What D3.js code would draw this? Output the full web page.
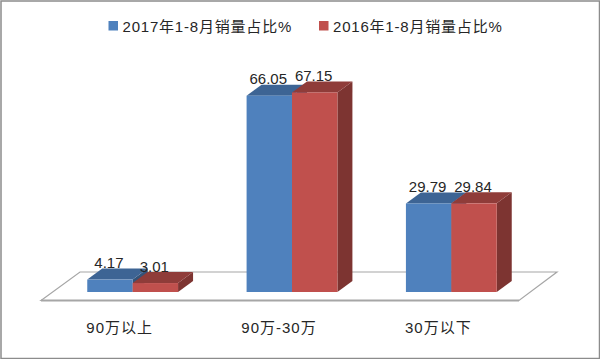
<!DOCTYPE html>
<html>
<head>
<meta charset="utf-8">
<style>
  html, body { margin: 0; padding: 0; background: #fff; }
  text { font-family: "Liberation Sans", "Noto Sans CJK SC", sans-serif; fill: #262626; }
</style>
<script src="https://cdn.jsdelivr.net/npm/d3@7"></script>
</head>
<body>
<div id="chartContainer"></div>
<script>
var categories = ["90万以上", "90万-30万", "30万以下"];
var seriesNames = ["2017年1-8月销量占比%", "2016年1-8月销量占比%"];
var values2017 = [4.17, 66.05, 29.79];
var values2016 = [3.01, 67.15, 29.84];

var seriesColors = [
    { front: "#4f81bd", top: "#3d6494", side: "#335379" },
    { front: "#c0504d", top: "#8f3c39", side: "#7d3431" }
];

function init() {
    var ww = 600;
    var h = 359;
    var baseY = 292;
    var depthX = 15;
    var depthY = 11;

    var svg = d3.select("#chartContainer")
        .append("svg")
        .attr("width", ww)
        .attr("height", h)
        .style("display", "block");

    // outer frame
    svg.append("rect")
        .attr("x", 1).attr("y", 1)
        .attr("width", ww - 1.5).attr("height", h - 1.5)
        .attr("fill", "#fff")
        .attr("stroke", "#8c8c8c")
        .attr("stroke-width", 1.5);

    var x0 = d3.scaleBand()
        .domain(categories)
        .range([53, 531])
        .paddingInner(0.43)
        .paddingOuter(0.215);

    var x1 = d3.scaleBand()
        .domain([0, 1])
        .range([0, x0.bandwidth()]);

    var y = d3.scaleLinear()
        .domain([0, 70])
        .range([baseY, baseY - 208]);

    // floor of the 3d box
    svg.append("path")
        .attr("d", "M41,300.5L80,272H557L519,300.5Z")
        .attr("fill", "#fff")
        .attr("stroke", "#a6a6a6")
        .attr("stroke-width", 1.2);
    svg.append("line")
        .attr("x1", 41).attr("y1", 300.5)
        .attr("x2", 519).attr("y2", 300.5)
        .attr("stroke", "#a6a6a6")
        .attr("stroke-width", 2);

    var rows = [];
    [values2017, values2016].forEach(function(vals, s) {
        vals.forEach(function(v, i) {
            rows.push({ s: s, cat: categories[i], value: v });
        });
    });

    var bars = svg.selectAll("g.bar")
        .data(rows)
        .enter()
        .append("g")
        .attr("class", "bar");

    function left(d) { return x0(d.cat) + x1(d.s); }
    function right(d) { return left(d) + x1.bandwidth(); }

    bars.append("path")
        .attr("fill", function(d) { return seriesColors[d.s].side; })
        .attr("d", function(d) {
            var l = right(d), t = y(d.value);
            return "M" + l + "," + baseY + "L" + l + "," + t +
                "L" + (l + depthX) + "," + (t - depthY) +
                "L" + (l + depthX) + "," + (baseY - depthY) + "Z";
        });

    bars.append("path")
        .attr("fill", function(d) { return seriesColors[d.s].top; })
        .attr("d", function(d) {
            var t = y(d.value);
            return "M" + left(d) + "," + t + "L" + right(d) + "," + t +
                "L" + (right(d) + depthX) + "," + (t - depthY) +
                "L" + (left(d) + depthX) + "," + (t - depthY) + "Z";
        });

    bars.append("rect")
        .attr("fill", function(d) { return seriesColors[d.s].front; })
        .attr("x", left)
        .attr("y", function(d) { return y(d.value); })
        .attr("width", x1.bandwidth())
        .attr("height", function(d) { return baseY - y(d.value); });

    // value labels sit over the top face
    svg.selectAll("text.value")
        .data(rows)
        .enter()
        .append("text")
        .attr("class", "value")
        .attr("text-anchor", "middle")
        .attr("font-size", 15)
        .attr("x", function(d) { return left(d) + x1.bandwidth() / 2 - 1; })
        .attr("y", function(d) { return y(d.value) - 11.5; })
        .text(function(d) { return d.value.toFixed(2); });

    // category labels
    svg.selectAll("text.cat")
        .data(categories)
        .enter()
        .append("text")
        .attr("class", "cat")
        .attr("text-anchor", "middle")
        .attr("font-size", 15)
        .attr("letter-spacing", 1)
        .attr("x", function(d) { return x0(d) + x0.bandwidth() / 2 - 13; })
        .attr("y", 333)
        .text(function(d) { return d; });

    // legend
    var legendX = [108.5, 319];
    var legend = svg.selectAll("g.legend")
        .data(seriesNames)
        .enter()
        .append("g")
        .attr("class", "legend")
        .attr("transform", function(d, i) { return "translate(" + legendX[i] + ",21)"; });

    legend.append("rect")
        .attr("width", 9.5)
        .attr("height", 9.5)
        .attr("fill", function(d, i) { return seriesColors[i].front; });

    legend.append("text")
        .attr("x", 14)
        .attr("y", 10.5)
        .attr("font-size", 15)
        .attr("letter-spacing", 0.8)
        .text(function(d) { return d; });
}

window.onload = init;
</script>
</body>
</html>
